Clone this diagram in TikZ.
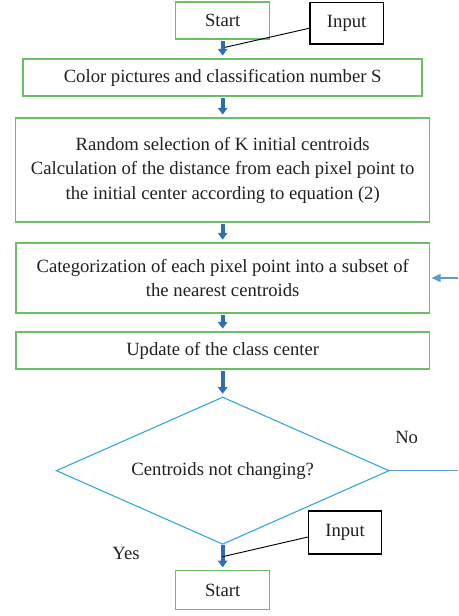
\documentclass[tikz,border=0pt]{standalone}
\usepackage{fontspec}
\setmainfont{Liberation Serif}
\usetikzlibrary{arrows.meta,positioning,shapes.geometric}
\definecolor{cGreen}{HTML}{6DBF67}
\definecolor{cCyan}{HTML}{2AA6DF}
\definecolor{cBlue}{HTML}{2E6EB5}
\definecolor{cLine}{HTML}{5B9BD5}
\definecolor{cInk}{HTML}{231F20}
\tikzset{
  font=\fontsize{14}{18.4}\selectfont,
  stepbox/.style={draw=cGreen, line width=1.1pt, align=center, text=cInk,
                  inner sep=2pt},
  inbox/.style={draw=black, line width=1pt, text=cInk,
                minimum width=55pt, minimum height=31pt},
  decision/.style={diamond, aspect=2.26, draw=cCyan, line width=0.8pt, text=cInk,
                   minimum width=249.75pt, minimum height=110.5pt, inner sep=0pt},
  flow/.style={-{Triangle[length=5pt,width=7pt]}, draw=cBlue, line width=3pt,
               shorten <=1pt, shorten >=2pt},
  lnk/.style={draw=black, line width=0.7pt},
  lbl/.style={text=cInk},
}

\begin{document}
\begin{tikzpicture}
    \useasboundingbox (0,0) rectangle (343.5pt,-462pt);
    % process boxes
    \node[stepbox, minimum width=70.5pt, minimum height=27.75pt] (start) at (167pt,-15.4pt) {Start};
    \node[inbox] (intop) at (260pt,-17.6pt) {Input};
    \node[stepbox, minimum width=299.25pt, minimum height=27.75pt] (color) at (167pt,-58.1pt)
        {Color pictures and classification number S};
    \node[stepbox, minimum width=310.5pt, minimum height=78pt] (init) at (167pt,-127.5pt)
        {Random selection of K initial centroids\\
         Calculation of the distance from each pixel point to\\
         the initial center according to equation (2)};
    \node[stepbox, minimum width=310pt, minimum height=52.5pt] (assign) at (167pt,-208.5pt)
        {Categorization of each pixel point into a subset of\\
         the nearest centroids};
    \node[stepbox, minimum width=310pt, minimum height=27.75pt] (update) at (167pt,-262.9pt)
        {Update of the class center};
    \node[decision] (check) at (167pt,-353pt) {Centroids not changing?};
    \node[inbox, minimum height=32.25pt] (inbot) at (258.75pt,-399.4pt) {Input};
    \node[stepbox, minimum width=70.5pt, minimum height=29pt] (stop) at (167pt,-442.5pt) {Start};
    % labels
    \node[lbl] (no) at (305pt,-327.75pt) {No};
    \node[lbl] (yes) at (94.5pt,-414.75pt) {Yes};
    % free ends
    \coordinate (j1) at (168.75pt,-35.5pt);
    \coordinate (j2) at (167pt,-417.5pt);
    \coordinate (back) at (343.5pt,-208.5pt);
    \coordinate (noend) at (343.5pt,-353pt);
    % main flow
    \draw[flow] (start) -- (color);
    \draw[flow] (color) -- (init);
    \draw[flow] (init) -- (assign);
    \draw[flow] (assign) -- (update);
    \draw[flow] (update) -- (check);
    \draw[flow, shorten <=0pt] (check.south) -- (stop);
    % inputs
    \draw[lnk] ([yshift=-3.6pt]intop.west) -- (j1);
    \draw[lnk] ([yshift=-3.4pt]inbot.west) -- (j2);
    % loop back
    \draw[draw=cLine, line width=0.8pt] (check.east) -- (noend);
    \draw[draw=cLine, line width=0.8pt, -{Triangle[length=7pt,width=6pt]}, shorten >=1pt]
        (back) -- (assign.east);
\end{tikzpicture}
\end{document}
